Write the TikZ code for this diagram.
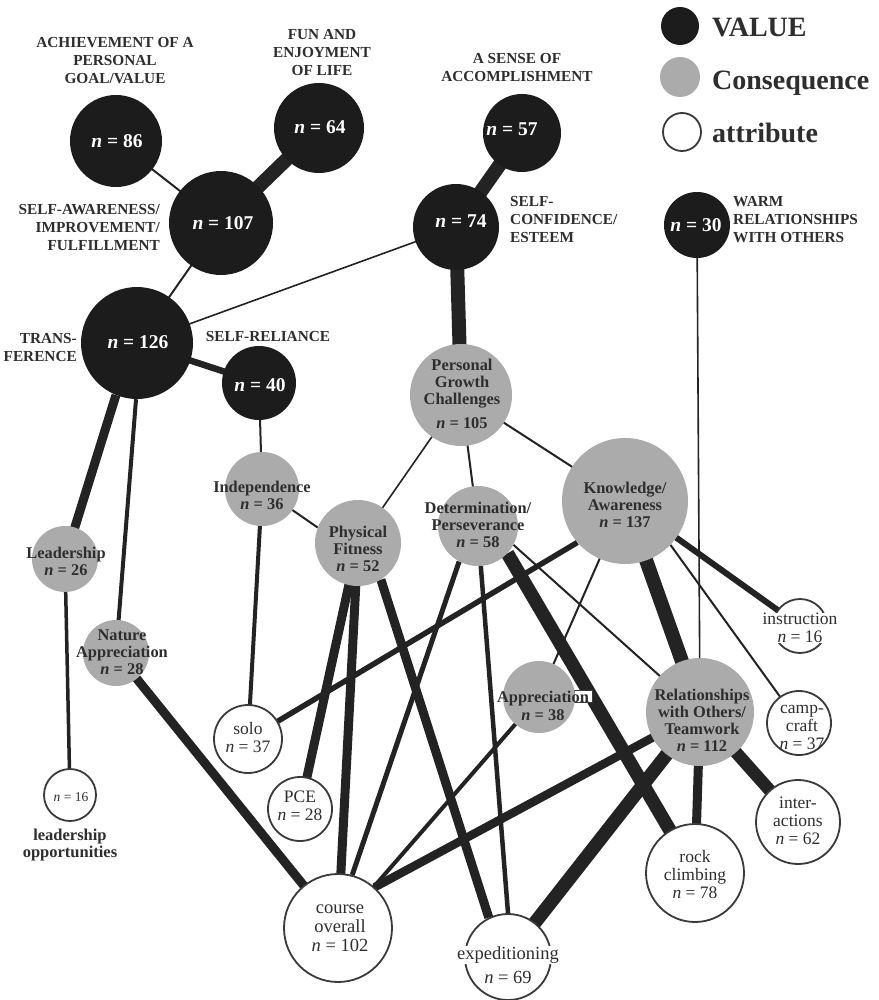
\documentclass[tikz,border=0pt]{standalone}
\usepackage{fontspec}
\setmainfont{Liberation Serif}
\usetikzlibrary{backgrounds}
\definecolor{vcol}{HTML}{1C1C1C}
\definecolor{ccol}{HTML}{ABABAB}
\definecolor{acol}{HTML}{3A3A3A}
\definecolor{ecol}{HTML}{232323}
\definecolor{tcol}{HTML}{2E2E2E}
\newcommand\nval[1]{{\itshape n} = #1}
\begin{document}
\begin{tikzpicture}[x=1pt,y=-1pt,
  vnode/.style={circle, fill=vcol, inner sep=0pt, minimum size=#1},
  cnode/.style={circle, fill=ccol, inner sep=0pt, minimum size=#1},
  anode/.style={circle, fill=white, draw=acol, line width=1.8pt, inner sep=0pt, minimum size=#1},
  vnum/.style={text=white, font=\fontsize{19.5}{20}\selectfont\bfseries, inner sep=0pt},
  vlab/.style={text=tcol, font=\fontsize{15.3}{18}\selectfont\bfseries, inner sep=0pt},
  ctext/.style={text=tcol, font=\fontsize{16.4}{17}\selectfont\bfseries, inner sep=0pt, align=center},
  atext/.style={text=tcol, font=\fontsize{17.5}{18}\selectfont, inner sep=0pt, align=center},
  legtext/.style={text=tcol, font=\fontsize{28}{30}\selectfont\bfseries, inner sep=0pt, anchor=base west},
  ed/.style={draw=ecol, line width=#1}
]
\useasboundingbox (0,0) rectangle (878,1000);

% ---------- VALUE nodes ----------
\node[vnode=92]  (v86)  at (116,141) {};
\node[vnode=90]  (v64)  at (319,128) {};
\node[vnode=104] (v107) at (221,223) {};
\node[vnode=112] (v126) at (137,343) {};
\node[vnode=74]  (v40)  at (259,383) {};
\node[vnode=78]  (v57)  at (522,133) {};
\node[vnode=86]  (v74)  at (456,227) {};
\node[vnode=66]  (v30)  at (697,225) {};

\node[vnum] (n86)  at (117,141) {\nval{86}};
\node[vnum] (n64)  at (320,127) {\nval{64}};
\node[vnum] (n107) at (223,223) {\nval{107}};
\node[vnum] (n126) at (138,342) {\nval{126}};
\node[vnum] (n40)  at (260,385) {\nval{40}};
\node[vnum] (n57)  at (512,129) {\nval{57}};
\node[vnum] (n74)  at (461,221) {\nval{74}};
\node[vnum] (n30)  at (696,225) {\nval{30}};

% value labels
\node[vlab, align=center] (l86) at (115,61) {ACHIEVEMENT OF A\\PERSONAL\\GOAL/VALUE};
\node[vlab, align=center] (l64) at (322,53) {FUN AND\\ENJOYMENT\\OF LIFE};
\node[vlab, align=right, anchor=east] (l107) at (160,228) {SELF-AWARENESS/\\IMPROVEMENT/\\FULFILLMENT};
\node[vlab, align=right, anchor=east] (l126) at (77,348) {TRANS-\\FERENCE};
\node[vlab] (l40) at (268,337) {SELF-RELIANCE};
\node[vlab, align=center] (l57) at (517,68) {A SENSE OF\\ACCOMPLISHMENT};
\node[vlab, align=left, anchor=west] (l74) at (510,220) {SELF-\\CONFIDENCE/\\ESTEEM};
\node[vlab, align=left, anchor=west] (l30) at (733,220) {WARM\\RELATIONSHIPS\\WITH OTHERS};

% ---------- CONSEQUENCE nodes ----------
\node[cnode=102] (pg)   at (461,395) {};
\node[cnode=126] (kn)   at (625,501) {};
\node[cnode=80]  (det)  at (478,526) {};
\node[cnode=72]  (app)  at (539,697) {};
\node[cnode=108] (rel)  at (700,712) {};
\node[cnode=86]  (pf)   at (358,543) {};
\node[cnode=74]  (ind)  at (262,489) {};
\node[cnode=66]  (lead) at (65,559) {};
\node[cnode=66]  (nat)  at (116,653) {};

\node[ctext] (tpg)   at (462,394) {Personal\\Growth\\Challenges\\[7pt]\nval{105}};
\node[ctext] (tkn)   at (625,505) {Knowledge/\\Awareness\\\nval{137}};
\node[ctext] (tdet)  at (478,525) {Determination/\\Perseverance\\\nval{58}};
\node[ctext] (tapp)  at (543,706) {Appreciation\\[1pt]\nval{38}};
\node[ctext] (trel)  at (702,720) {Relationships\\with Others/\\Teamwork\\\nval{112}};
\node[ctext] (tpf)   at (358,549) {Physical\\Fitness\\\nval{52}};
\node[ctext] (tind)  at (262,495) {Independence\\\nval{36}};
\node[ctext] (tlead) at (66,561) {Leadership\\\nval{26}};
\node[ctext] (tnat)  at (122,652) {Nature\\Appreciation\\\nval{28}};

% ---------- ATTRIBUTE nodes ----------
\node[anode=68]  (solo)   at (248,739) {};
\node[anode=64]  (pce)    at (300,809) {};
\node[anode=108] (course) at (338,928) {};
\node[anode=86]  (exped)  at (508,957) {};
\node[anode=54]  (instr)  at (800,626) {};
\node[anode=64]  (camp)   at (799,723) {};
\node[anode=84]  (inter)  at (798,822) {};
\node[anode=98]  (rock)   at (695,873) {};
\node[anode=52]  (lopp)   at (70,795) {};

\node[atext] (tsolo)   at (248,738) {solo\\\nval{37}};
\node[atext] (tpce)    at (300,806) {PCE\\\nval{28}};
\node[atext, font=\fontsize{18.5}{19}\selectfont] (tcourse) at (340,928) {course\\overall\\\nval{102}};
\node[atext, font=\fontsize{18.5}{19}\selectfont, fill=white, inner sep=1pt] (texped) at (508,955) {expeditioning};
\node[atext, font=\fontsize{18.5}{19}\selectfont] (texpedn) at (508,977) {\nval{69}};
\node[atext, fill=white, inner xsep=1.5pt, inner ysep=0.5pt] (tinstr) at (800,628) {instruction\\\nval{16}};
\node[atext] (tcamp)   at (802,727) {camp-\\craft\\\nval{37}};
\node[atext] (tinter)  at (798,821) {inter-\\actions\\\nval{62}};
\node[atext] (trock)   at (695,875) {rock\\climbing\\\nval{78}};
\node[atext, font=\fontsize{13.5}{14}\selectfont] (tlopp) at (71,797) {\nval{16}};
\node[text=tcol, font=\fontsize{16.5}{17}\selectfont\bfseries, align=center, inner sep=0pt] (llopp) at (70,845) {leadership\\opportunities};

% ---------- legend ----------
\node[vnode=38] (legv) at (680,26) {};
\node[cnode=40] (legc) at (680,77) {};
\node[anode=38] (lega) at (682,132) {};
\node[legtext] (legvt) at (712,37) {VALUE};
\node[legtext] (legct) at (712,90) {Consequence};
\node[legtext] (legat) at (712,143) {attribute};

% ---------- connectors ----------
\begin{scope}[on background layer]
\fill[white] (0,0) rectangle (878,1000);
\draw[ed=2pt]   (v86.center) -- (v107.center);
\draw[ed=14pt]  (v64.center) -- (v107.center);
\draw[ed=2pt]   (v107.center) -- (v126.center);
\draw[ed=1.6pt] (v126.center) -- (v74.center);
\draw[ed=14pt]  (v57.center) -- (v74.center);
\draw[ed=6.5pt] (v126.center) -- (v40.center);
\draw[ed=14pt]  (v74.center) -- (pg.center);
\draw[ed=1.6pt] (v30.center) -- (rel.center);
\draw[ed=9pt]   (v126.-112) -- (lead.center);
\draw[ed=4pt]   (v126.-91) -- (nat.center);
\draw[ed=2pt]   (v40.center) -- (ind.center);
\draw[ed=1.6pt] (pg.center) -- (pf.center);
\draw[ed=2pt]   (pg.center) -- (det.center);
\draw[ed=2pt]   (pg.center) -- (kn.center);
\draw[ed=2pt]   (ind.center) -- (pf.159);
\draw[ed=4pt]   (ind.center) -- (solo.center);
\draw[ed=3.5pt] (lead.center) -- (lopp.center);
\draw[ed=9pt]   (nat.center) -- (course.center);
\draw[ed=9pt]   (pf.center) -- (pce.center);
\draw[ed=9pt]   (pf.center) -- (course.center);
\draw[ed=9pt]   (pf.-58) -- (exped.116);
\draw[ed=5.5pt] (kn.-139) -- (solo.center);
\draw[ed=5pt]   (det.-118) -- (course.75);
\draw[ed=4.5pt] (det.-86) -- (exped.90);
\draw[ed=13.5pt](det.-43) -- (rock.center);
\draw[ed=2pt]   (det.-28) -- (rel.center);
\draw[ed=2pt]   (kn.center) -- (app.center);
\draw[ed=14pt]  (kn.center) -- (rel.center);
\draw[ed=6pt]   (kn.center) -- (instr.center);
\draw[ed=2pt]   (kn.-44) -- (camp.center);
\draw[ed=4pt]   (app.center) -- (course.center);
\draw[ed=8.5pt] (rel.center) -- (course.48);
\draw[ed=13.5pt](rel.center) -- (exped.center);
\draw[ed=9pt]   (rel.center) -- (rock.center);
\draw[ed=12.5pt](rel.center) -- (inter.center);
\node[draw=acol, line width=0.8pt, fill=white, minimum width=18, minimum height=12, inner sep=0pt] (appbox) at (583,696.5) {};
\end{scope}
\end{tikzpicture}
\end{document}
